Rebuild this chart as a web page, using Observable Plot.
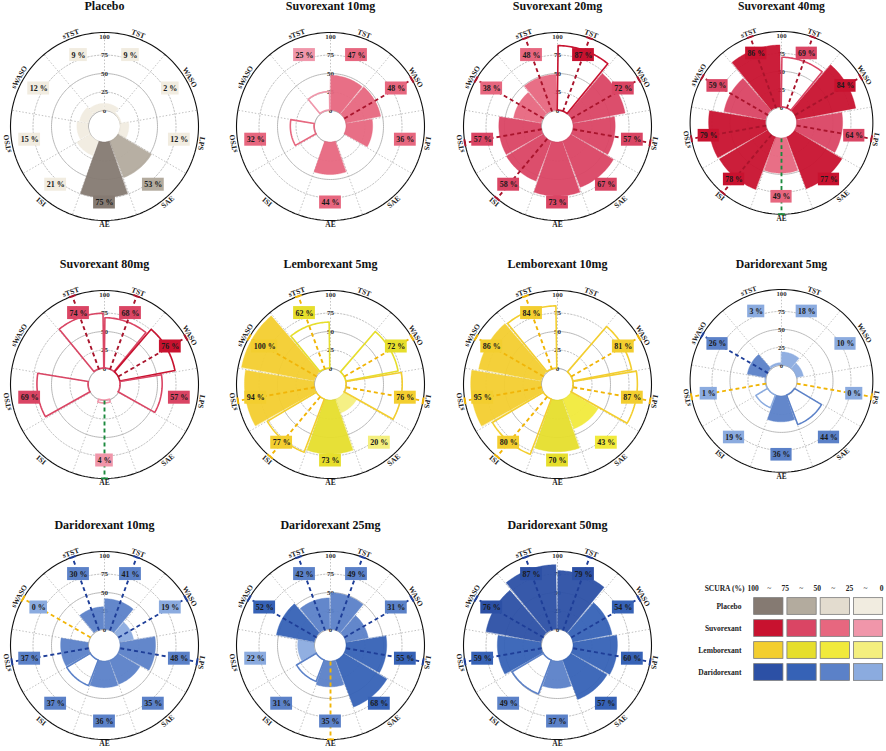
<!DOCTYPE html>
<html><head><meta charset="utf-8">
<script src="https://cdn.jsdelivr.net/npm/d3@7"></script>
<script src="https://cdn.jsdelivr.net/npm/@observablehq/plot@0.6"></script>
<style>
body{margin:0;background:#fff;overflow:hidden}
#fig{position:relative;width:886px;height:751px;overflow:hidden;background:#fff}
#fig > div{position:absolute}
</style></head><body><div id="fig"></div>
<script>
// ---------- data ----------
const categories = ["TST","WASO","LPS","SAE","AE","ISI","sTSO","sWASO","sTST"];
const gridValues = [0, 25, 50, 75, 100];
const panelTitles = ["Placebo","Suvorexant 10mg","Suvorexant 20mg","Suvorexant 40mg","Suvorexant 80mg","Lemborexant 5mg","Lemborexant 10mg","Daridorexant 5mg","Daridorexant 10mg","Daridorexant 25mg","Daridorexant 50mg"];
const panelDrug = ["Placebo","Suvorexant","Suvorexant","Suvorexant","Suvorexant","Lemborexant","Lemborexant","Daridorexant","Daridorexant","Daridorexant","Daridorexant"];

const sucraPlacebo = [9, 2, 12, 53, 75, 21, 15, 12, 9];
const sucraSuvo10  = [47, 48, 36, null, 44, null, 32, null, 25];
const sucraSuvo20  = [87, 72, 57, 67, 73, 58, 57, 38, 48];
const sucraSuvo40  = [69, 84, 64, 77, 49, 78, 79, 59, 86];
const sucraSuvo80  = [68, 76, 57, null, 4, null, 69, null, 74];
const sucraLembo5  = [null, 72, 76, 20, 73, 77, 94, 100, 62];
const sucraLembo10 = [null, 81, 87, 43, 70, 80, 95, 86, 84];
const sucraDari5   = [18, 10, 0, 44, 36, 19, 1, 26, 3];
const sucraDari10  = [41, 19, 48, 35, 36, 37, 37, 0, 30];
const sucraDari25  = [49, 31, 55, 68, 35, 31, 22, 52, 42];
const sucraDari50  = [79, 54, 60, 57, 37, 49, 59, 76, 87];

// F = filled bar, O = outlined bar
const barPlacebo = ["F","F","F","F","F","F","F","F","F"];
const barSuvo10  = ["F","F","F",null,"F",null,"O",null,"O"];
const barSuvo20  = ["O","F","F","F","F","F","F","F","F"];
const barSuvo40  = ["O","F","F","F","F","F","F","F","F"];
const barSuvo80  = ["O","O","O",null,"O",null,"O",null,"O"];
const barLembo5  = [null,"O","O","F","F","O","F","F","O"];
const barLembo10 = [null,"O","O","F","F","O","F","F","O"];
const barDari5   = ["F","F","F","O","F","O","F","F","F"];
const barDari10  = ["F","F","F","F","F","O","F","F","F"];
const barDari25  = ["F","F","F","F","F","O","F","F","F"];
const barDari50  = ["F","F","F","F","F","O","F","F","F"];

// dashed markers: d = same drug, g = green, y = yellow
const dashPlacebo = [null,null,null,null,null,null,null,null,null];
const dashSuvo10  = [null,"d",null,null,null,null,null,null,null];
const dashSuvo20  = ["d","d","d",null,null,"d","d","d","d"];
const dashSuvo40  = ["d","d","d",null,"g","d","d","d","d"];
const dashSuvo80  = ["d","d",null,null,"g",null,null,null,"d"];
const dashLembo5  = [null,"d","d",null,null,"d","d","d","d"];
const dashLembo10 = [null,"d","d",null,null,"d","d","d","d"];
const dashDari5   = [null,null,"y",null,null,null,"y","d",null];
const dashDari10  = ["d","d","d",null,null,null,"d","y","d"];
const dashDari25  = ["d","d","d",null,"y",null,null,"d","d"];
const dashDari50  = ["d","d","d",null,null,null,"d","d","d"];

const legendGroups = ["Placebo","Suvorexant","Lemborexant","Daridorexant"];
const legendBreaks = [100, 75, 50, 25, 0];

const panelValues = [sucraPlacebo,sucraSuvo10,sucraSuvo20,sucraSuvo40,sucraSuvo80,sucraLembo5,sucraLembo10,sucraDari5,sucraDari10,sucraDari25,sucraDari50];
const panelBars = [barPlacebo,barSuvo10,barSuvo20,barSuvo40,barSuvo80,barLembo5,barLembo10,barDari5,barDari10,barDari25,barDari50];
const panelDashes = [dashPlacebo,dashSuvo10,dashSuvo20,dashSuvo40,dashSuvo80,dashLembo5,dashLembo10,dashDari5,dashDari10,dashDari25,dashDari50];

// ---------- styles ----------
const palettes = {
  Placebo: ["#857a72","#b3ab9e","#e3dccf","#f1ece0"],
  Suvorexant: ["#c8122f","#da4564","#e7677f","#f096aa"],
  Lemborexant: ["#f3ce2f","#e6de2c","#f1ea3c","#f4ef7e"],
  Daridorexant: ["#2c50a5","#3662b6","#5b81c8","#8babdf"]
};
const dashColors = {
  Suvorexant: "#a9142c", Lemborexant: "#f1b507", Daridorexant: "#1e3e98", Placebo: "#777",
  g: "#1c8a3e", y: "#f1b507"
};
const FONT = "Liberation Serif, Times New Roman, serif";
const binOf = v => v >= 75 ? 0 : v >= 50 ? 1 : v > 25 ? 2 : 3;

const R_OUT = 94, R_BOX = 76, R_LAB = 98.5, PAD = 0.8;
const rScale = Plot.scale({x: {type: "linear", domain: [0, 100], range: [16, 90]}});
const rad = v => rScale.apply(v);
const STEP = 360 / categories.length;
const bearing = i => STEP * (i + 0.5);
const PX = (r, a) => r * Math.sin(a * Math.PI / 180);
const PY = (r, a) => -r * Math.cos(a * Math.PI / 180);

const colCenters = [104, 330, 557, 784];
const rowCenters = [126, 384, 645];
const W = 216, H = 260;

function panel(p) {
  const values = panelValues[p], bars = panelBars[p], dashes = panelDashes[p];
  const pal = palettes[panelDrug[p]];
  const samples = [];
  values.forEach((v, i) => {
    if (v == null || v <= 0 || !bars[i]) return;
    const a1 = STEP * i + PAD, a2 = STEP * (i + 1) - PAD;
    for (let k = 0; k <= 30; k++) samples.push({i, v, kind: bars[i], a: a1 + (a2 - a1) * k / 30, col: pal[binOf(v)]});
  });
  const ringSamples = [];
  [0, 25, 50, 75].forEach(g => { for (let a = 0; a <= 360; a += 2) ringSamples.push({g, r: rad(g), a}); });
  const outerSamples = d3.range(0, 361, 2).map(a => ({a}));
  const spokes = d3.range(categories.length).map(k => k * STEP);
  const dashData = dashes.map((c, i) => c ? {i, a: bearing(i), col: c === "d" ? dashColors[panelDrug[p]] : dashColors[c]} : null).filter(d => d);
  const boxes = values.map((v, i) => v == null ? null : {i, v, a: bearing(i), label: `${v} %`, col: pal[binOf(v)]}).filter(d => d);
  const bw = d => 4.2 * d.label.length + 5;
  const ringStyle = g => g === 0 ? "#8c8c8c" : "#b0b0b0";

  return Plot.plot({
    width: W, height: H, margin: 0,
    x: {domain: [-W / 2, W / 2], range: [0, W], axis: null},
    y: {domain: [-H / 2, H / 2], range: [0, H], axis: null},
    color: {type: "identity"},
    style: {fontFamily: FONT, background: "transparent", overflow: "visible"},
    marks: [
      Plot.link(spokes, {x1: a => PX(rad(0), a), y1: a => PY(rad(0), a), x2: a => PX(R_OUT, a), y2: a => PY(R_OUT, a), stroke: "#a8a8a8", strokeWidth: 0.7, strokeDasharray: "1.5,1.8"}),
      Plot.line(ringSamples.filter(d => d.g === 25 || d.g === 75), {x: d => PX(d.r, d.a), y: d => PY(d.r, d.a), z: "g", stroke: "#a8a8a8", strokeWidth: 0.7, strokeDasharray: "1.5,1.8"}),
      Plot.line(ringSamples.filter(d => d.g === 0 || d.g === 50), {x: d => PX(d.r, d.a), y: d => PY(d.r, d.a), z: "g", stroke: d => ringStyle(d.g), strokeWidth: 0.9}),
      Plot.text(gridValues, {x: 0, y: v => PY(rad(v), 0), text: v => String(v), fontSize: 7, fontWeight: "bold", fill: "#333", fontFamily: FONT}),
      Plot.area(samples.filter(d => d.kind === "F"), {x1: d => PX(rad(0), d.a), y1: d => PY(rad(0), d.a), x2: d => PX(rad(d.v), d.a), y2: d => PY(rad(d.v), d.a), z: "i", fill: "col", stroke: "col", strokeWidth: 0.4, fillOpacity: 0.95}),
      Plot.area(samples.filter(d => d.kind === "O"), {x1: d => PX(rad(0), d.a), y1: d => PY(rad(0), d.a), x2: d => PX(rad(d.v), d.a), y2: d => PY(rad(d.v), d.a), z: "i", fill: "none", stroke: "col", strokeWidth: 1.6}),
      Plot.link(dashData, {x1: d => PX(rad(0), d.a), y1: d => PY(rad(0), d.a), x2: d => PX(R_OUT, d.a), y2: d => PY(R_OUT, d.a), stroke: "col", strokeWidth: 1.9, strokeDasharray: "4,3"}),
      Plot.line(outerSamples, {x: d => PX(R_OUT, d.a), y: d => PY(R_OUT, d.a), stroke: "#111", strokeWidth: 1.1}),
      Plot.link(dashData, {
        x1: d => PX(R_OUT, d.a) - 3.5 * Math.cos(d.a * Math.PI / 180), y1: d => PY(R_OUT, d.a) - 3.5 * Math.sin(d.a * Math.PI / 180),
        x2: d => PX(R_OUT, d.a) + 3.5 * Math.cos(d.a * Math.PI / 180), y2: d => PY(R_OUT, d.a) + 3.5 * Math.sin(d.a * Math.PI / 180),
        stroke: "col", strokeWidth: 2
      }),
      Plot.rect(boxes, {x1: d => PX(R_BOX, d.a) - bw(d) / 2, x2: d => PX(R_BOX, d.a) + bw(d) / 2, y1: d => PY(R_BOX, d.a) - 6.5, y2: d => PY(R_BOX, d.a) + 6.5, fill: "col"}),
      Plot.text(boxes, {x: d => PX(R_BOX, d.a), y: d => PY(R_BOX, d.a), text: "label", fontSize: 8, fontWeight: "bold", fill: "#1a1a1a", fontFamily: FONT}),
      Plot.text(categories, {
        x: (d, i) => PX(R_LAB, bearing(i)), y: (d, i) => PY(R_LAB, bearing(i)), text: d => d,
        rotate: (d, i) => { const a = bearing(i); return (a > 120 && a < 240) ? a - 180 : (a > 180 ? a - 360 : a); },
        fontSize: 7.5, fontWeight: "bold", fill: "#222", fontFamily: FONT
      }),
      Plot.text([panelTitles[p]], {x: 0, y: -120, text: d => d, fontSize: 12, fontWeight: "bold", fill: "#111", fontFamily: FONT})
    ]
  });
}

const fig = document.getElementById("fig");
panelTitles.forEach((t, p) => {
  const div = document.createElement("div");
  const c = p % 4, r = Math.floor(p / 4);
  div.style.left = (colCenters[c] - W / 2) + "px";
  div.style.top = (rowCenters[r] - H / 2) + "px";
  div.appendChild(panel(p));
  fig.appendChild(div);
});

// legend
const cells = legendGroups.flatMap((g, r) => [0, 1, 2, 3].map(c => ({g, r, c, col: palettes[g][c]})));
const breakX = i => 0.02 + i * 0.965;
const legend = Plot.plot({
  width: 206, height: 130, margin: 0,
  x: {domain: [0, 4], range: [72, 205], axis: null},
  y: {domain: [-1, 4], range: [14, 124], axis: null},
  color: {type: "identity"},
  style: {fontFamily: FONT, background: "transparent"},
  marks: [
    Plot.rect(cells, {x1: d => d.c + 0.05, x2: d => d.c + 0.93, y1: d => d.r - 0.38, y2: d => d.r + 0.38, fill: "col", stroke: "#7a7a7a", strokeWidth: 0.8}),
    Plot.text(legendGroups, {x: 0, dx: -11, y: (d, i) => i, text: d => d, textAnchor: "end", fontSize: 7.5, fontWeight: "bold", fill: "#222", fontFamily: FONT}),
    Plot.text(legendBreaks, {x: (d, i) => breakX(i), y: -0.8, text: d => String(d), fontSize: 7.5, fontWeight: "bold", fill: "#222", fontFamily: FONT}),
    Plot.text([0, 1, 2, 3], {x: d => breakX(d + 0.5), y: -0.8, text: () => "~", fontSize: 7.5, fill: "#222", fontFamily: FONT}),
    Plot.text(["SCURA (%)"], {x: 0, dx: -8, y: -0.8, text: d => d, textAnchor: "end", fontSize: 7.5, fontWeight: "bold", fill: "#222", fontFamily: FONT})
  ]
});
const ldiv = document.createElement("div");
ldiv.style.left = "680px"; ldiv.style.top = "570px";
ldiv.appendChild(legend);
fig.appendChild(ldiv);
</script></body></html>
